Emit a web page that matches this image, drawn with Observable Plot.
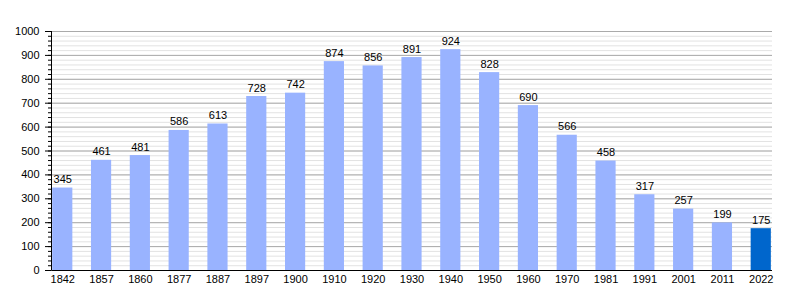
<!DOCTYPE html>
<html>
<head>
<meta charset="utf-8">
<script src="https://cdn.jsdelivr.net/npm/d3@7"></script>
<script src="https://cdn.jsdelivr.net/npm/@observablehq/plot@0.6"></script>
<style>
  html, body { margin: 0; padding: 0; background: #fff; }
  #chart { width: 800px; height: 300px; }
</style>
</head>
<body>
<div id="chart"></div>
<script>
const years = ["1842","1857","1860","1877","1887","1897","1900","1910","1920","1930","1940","1950","1960","1970","1981","1991","2001","2011","2022"];
const population = [345,461,481,586,613,728,742,874,856,891,924,828,690,566,458,317,257,199,175];
const highlightYear = "2022";
const majorTicks = [0,100,200,300,400,500,600,700,800,900,1000];
const minorTicks = d3.range(0, 1001, 20);

const data = years.map((y, i) => ({year: y, value: population[i], last: y === highlightYear}));

const axisLines = (index, scales, values, dims) => {
  const g = d3.create("svg:g");
  const x0 = dims.marginLeft + 0.5;
  const y1 = dims.height - dims.marginBottom;
  g.append("line").attr("x1", x0).attr("x2", x0).attr("y1", dims.marginTop).attr("y2", y1 + 0.5)
    .attr("stroke", "#000").attr("stroke-width", 1);
  g.append("line").attr("x1", x0).attr("x2", dims.width - dims.marginRight).attr("y1", y1 + 0.5).attr("y2", y1 + 0.5)
    .attr("stroke", "#000").attr("stroke-width", 1);
  return g.node();
};

const chart = Plot.plot({
  width: 800,
  height: 300,
  marginTop: 31,
  marginBottom: 30,
  marginLeft: 51,
  marginRight: 28,
  style: {fontFamily: "'Liberation Sans', Arial, sans-serif", fontSize: "11px", background: "#fff", color: "#000"},
  x: {domain: years, paddingInner: 0.48, paddingOuter: 0.03, round: false, label: null},
  y: {domain: [0, 1000], label: null},
  marks: [
    Plot.ruleY(minorTicks, {stroke: "#e2e2e2", strokeWidth: 1}),
    Plot.ruleY(majorTicks, {stroke: "#aaaaaa", strokeWidth: 1}),
    Plot.barY(data, {x: "year", y: "value", fill: d => d.last ? "#0066cc" : "#99b3ff"}),
    Plot.text(data, {x: "year", y: "value", text: d => String(d.value), lineAnchor: "bottom", dy: -5, fill: "#000", fontSize: 11}),
    Plot.axisY({ticks: majorTicks, tickSize: 6, tickPadding: 6, tickFormat: d => String(d), stroke: "#000", fontSize: 11}),
    Plot.axisY({ticks: minorTicks, tickSize: 3, tickFormat: () => "", stroke: "#000"}),
    Plot.axisX({tickSize: 0, tickPadding: 5, fontSize: 11}),
    axisLines
  ]
});
document.getElementById("chart").appendChild(chart);
</script>
</body>
</html>
